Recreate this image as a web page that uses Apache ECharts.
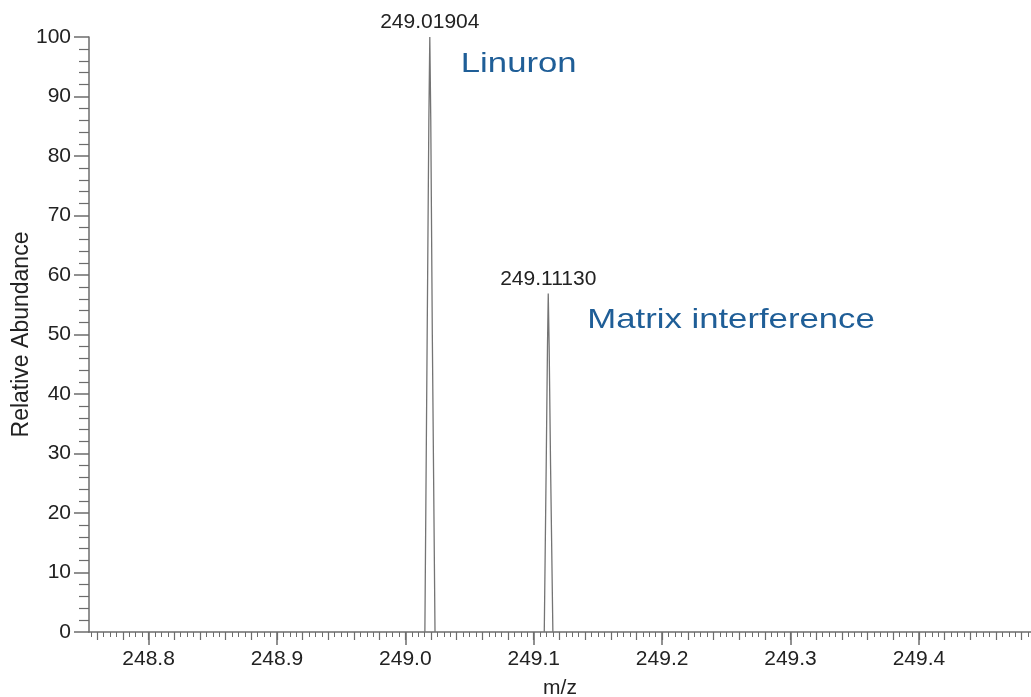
<!DOCTYPE html>
<html>
<head>
<meta charset="utf-8">
<script src="https://cdn.jsdelivr.net/npm/echarts@6/dist/echarts.min.js"></script>
<style>
  html, body { margin: 0; padding: 0; background: #fff; }
  #chart { width: 1031px; height: 697px; }
</style>
</head>
<body>
<div id="chart"></div>
<script>
// m/z axis range and labelled ticks
const mzMin = 248.7536;
const mzMax = 249.4873;
const mzTickLabels = [248.8, 248.9, 249.0, 249.1, 249.2, 249.3, 249.4];

// Linuron peak profile (m/z, relative abundance)
const linuronMz = [249.0152, 249.0170, 249.0183, 249.01904, 249.0198, 249.0210, 249.0231];
const linuronAbundance = [0, 50, 86, 100, 86, 50, 0];

// Matrix interference peak profile
const matrixMz = [249.1082, 249.1097, 249.1107, 249.11130, 249.1120, 249.1131, 249.1149];
const matrixAbundance = [0, 28, 48, 56.9, 48, 28, 0];

// Centroid apexes that carry the m/z labels
const apexMz = [249.01904, 249.11130];
const apexAbundance = [100, 56.9];

// Annotation texts
const annotations = ['Linuron', 'Matrix interference'];

// Secondary tick positions along m/z (every 0.02 and every 0.005)
function tickRange(step) {
  const out = [];
  const start = Math.ceil(mzMin / step);
  const end = Math.floor(mzMax / step);
  for (let k = start; k <= end; k++) out.push(+(k * step).toFixed(4));
  return out;
}
const midTicks = tickRange(0.02);
const fineTicks = tickRange(0.005);

const axisColor = '#6c6c6c';
const textColor = '#222222';
const font = 'Liberation Sans, Arial, Helvetica, sans-serif';

function pairs(xs, ys) { return xs.map((x, i) => [x, ys[i]]); }

const chart = echarts.init(document.getElementById('chart'), null, { renderer: 'canvas' });

const baseX = {
  type: 'value', min: mzMin, max: mzMax, position: 'bottom',
  splitLine: { show: false }, gridIndex: 0
};

chart.setOption({
  animation: false,
  backgroundColor: '#ffffff',
  grid: { left: 89, right: 0, top: 37, bottom: 65, containLabel: false, outerBoundsMode: 'none' },
  xAxis: [
    Object.assign({}, baseX, {
      name: 'm/z', nameLocation: 'middle', nameGap: 46, nameMoveOverlap: false,
      nameTextStyle: { fontFamily: font, fontSize: 21, color: textColor },
      axisLine: { show: true, onZero: false, lineStyle: { color: axisColor, width: 1.5 } },
      axisTick: { show: true, length: 13, customValues: mzTickLabels, lineStyle: { color: axisColor, width: 1.5 } },
      axisLabel: {
        show: true, customValues: mzTickLabels, margin: 17,
        fontFamily: font, fontSize: 21, color: textColor,
        formatter: v => v.toFixed(1)
      }
    }),
    Object.assign({}, baseX, {
      axisLine: { show: false },
      axisTick: { show: true, length: 8, customValues: midTicks, lineStyle: { color: axisColor, width: 1.2 } },
      axisLabel: { show: false }
    }),
    Object.assign({}, baseX, {
      axisLine: { show: false },
      axisTick: { show: true, length: 5, customValues: fineTicks, lineStyle: { color: axisColor, width: 1 } },
      axisLabel: { show: false }
    })
  ],
  yAxis: {
    type: 'value', min: 0, max: 100, interval: 10,
    name: 'Relative Abundance', nameLocation: 'middle', nameGap: 56, nameRotate: 90,
    nameMoveOverlap: false,
    nameTextStyle: { fontFamily: font, fontSize: 23, color: textColor },
    splitLine: { show: false },
    axisLine: { show: true, lineStyle: { color: axisColor, width: 1.5 } },
    axisTick: { show: true, length: 15, lineStyle: { color: axisColor, width: 1.5 } },
    minorTick: { show: true, splitNumber: 5, length: 10, lineStyle: { color: axisColor, width: 1.2 } },
    axisLabel: { margin: 18, fontFamily: font, fontSize: 21, color: textColor }
  },
  series: [
    {
      type: 'line', name: 'Linuron', xAxisIndex: 0,
      data: pairs(linuronMz, linuronAbundance),
      symbol: 'none', lineStyle: { color: '#747474', width: 1.3 }, silent: true
    },
    {
      type: 'line', name: 'Matrix interference', xAxisIndex: 0,
      data: pairs(matrixMz, matrixAbundance),
      symbol: 'none', lineStyle: { color: '#747474', width: 1.3 }, silent: true
    },
    {
      type: 'scatter', xAxisIndex: 0,
      data: pairs(apexMz, apexAbundance),
      symbolSize: 0, silent: true,
      itemStyle: { color: textColor, opacity: 1 },
      label: {
        show: true, position: 'top', distance: 4,
        fontFamily: font, fontSize: 21, color: textColor, opacity: 1,
        formatter: p => p.value[0].toFixed(5)
      }
    }
  ]
});

// Compound annotations in blue, placed beside each peak
const annot = [
  { text: annotations[0], mz: apexMz[0], ab: apexAbundance[0], dx: 31, dy: 13 },
  { text: annotations[1], mz: apexMz[1], ab: apexAbundance[1], dx: 39, dy: 13 }
];
chart.setOption({
  graphic: annot.map(a => {
    const p = chart.convertToPixel({ gridIndex: 0 }, [a.mz, a.ab]);
    return {
      type: 'text', x: p[0] + a.dx, y: p[1] + a.dy, scaleX: 1.24,
      style: {
        text: a.text, fill: '#1f5e97',
        font: '28px ' + font, verticalAlign: 'top', align: 'left'
      }
    };
  })
});
</script>
</body>
</html>
